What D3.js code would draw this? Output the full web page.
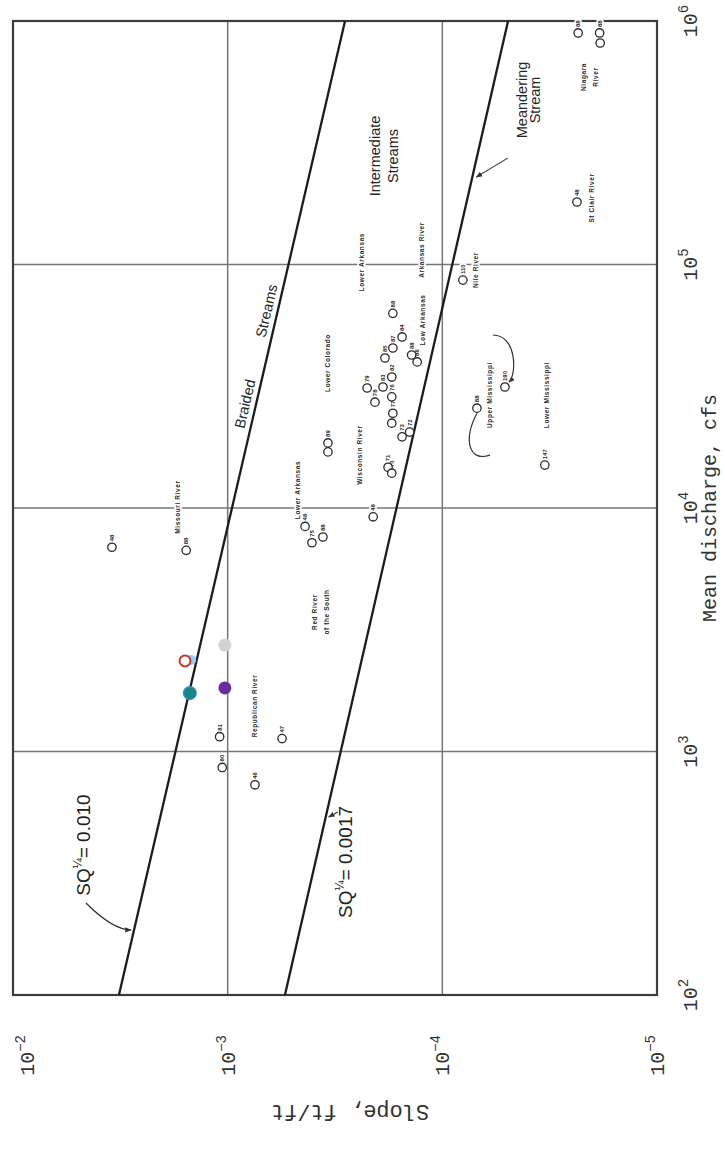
<!DOCTYPE html>
<html><head><meta charset="utf-8">
<script src="https://cdn.jsdelivr.net/npm/d3@7/dist/d3.min.js"></script>
<style>html,body{margin:0;padding:0;background:#fff;} svg{display:block;}</style>
</head><body>
<svg id="chart" width="725" height="1149"></svg>
<script>
// ---------------- data ----------------
const dischargeTicks = [1e2, 1e3, 1e4, 1e5, 1e6];
const dischargeExp = ["2", "3", "4", "5", "6"];
const slopeTicks = [1e-2, 1e-3, 1e-4, 1e-5];
const slopeExp = ["\u22122", "\u22123", "\u22124", "\u22125"];
const gridDischarge = [1e3, 1e4, 1e5];
const gridSlope = [1e-3, 1e-4];

// SQ^1/4 = 0.010 (braided threshold) and SQ^1/4 = 0.0017 (meandering threshold)
const braidedQ = [1e2, 1e6];
const braidedS = [3.21e-3, 2.84e-4];
const meanderQ = [1e2, 1e6];
const meanderS = [5.41e-4, 4.94e-5];

// river data points (discharge cfs, slope ft/ft)
const riverQ = [6900, 6700, 1150, 860, 730, 1130, 8400, 7200, 7600, 9200, 18500, 17000,
  63000, 50400, 45400, 41300, 42500, 39800, 34500, 31400, 31100, 27200, 28600, 24500,
  22300, 19600, 20500, 14700, 13900, 86300, 25700, 31400, 15000, 180600, 893000, 893000, 812000];
const riverS = [3.46e-3, 1.56e-3, 1.09e-3, 1.06e-3, 7.46e-4, 5.58e-4, 4.36e-4, 4.05e-4, 3.60e-4, 2.10e-4, 3.41e-4, 3.41e-4,
  1.70e-4, 1.54e-4, 1.70e-4, 1.85e-4, 1.39e-4, 1.31e-4, 1.72e-4, 1.89e-4, 2.24e-4, 2.06e-4, 1.72e-4, 1.70e-4,
  1.72e-4, 1.54e-4, 1.42e-4, 1.79e-4, 1.72e-4, 8.02e-5, 6.90e-5, 5.11e-5, 3.33e-5, 2.36e-5, 2.33e-5, 1.85e-5, 1.84e-5];
const riverIds = ["48","88","81","80","46","47","48","75","88","48","89","90","88","84","87","85","88","86",
  "82","83","79","78","76","77","74","73","72","71","70","110","88","190","147","48","88","88","8"];

// highlighted (coloured) points
const highlightQ = [2377, 2355, 2735, 1738, 1824];
const highlightS = [1.48e-3, 1.58e-3, 1.03e-3, 1.50e-3, 1.03e-3];

// river name notes
const noteText = ["Missouri River","Republican River","Lower Arkansas","Red River","of the South","Lower Colorado",
  "Lower Arkansas","Wisconsin River","Arkansas River","Low Arkansas","Nile River","Upper Mississippi",
  "Lower Mississippi","St Clair River","Niagara","River"];
const noteQ = [10090, 1538, 11860, 3740, 3740, 39400, 102300, 16500, 114800, 59200, 94900, 29100, 29100, 187600, 589000, 589000];
const noteS = [1.72e-3, 7.46e-4, 4.75e-4, 3.92e-4, 3.48e-4, 3.41e-4, 2.37e-4, 2.42e-4, 1.25e-4, 1.24e-4, 6.97e-5, 6.00e-5, 3.26e-5, 2.01e-5, 2.21e-5, 1.93e-5];

// region labels
const regionText = ["Intermediate", "Streams", "Meandering", "Stream"];
const regionQ = [279000, 279000, 474000, 474000];
const regionS = [2.06e-4, 1.70e-4, 4.26e-5, 3.71e-5];
const braidWords = ["Braided", "Streams"];
const braidWordQ = [26500, 63800];

// equation labels
const eqValue = ["0.010", "0.0017"];
const eqQ = [413, 352];
const eqS = [4.38e-3, 2.64e-4];

// ---------------- drawing ----------------
const svg = d3.select("#chart");
const defs = svg.append("defs");
defs.append("marker").attr("id", "ah").attr("viewBox", "0 0 10 10")
  .attr("refX", 9).attr("refY", 5).attr("markerWidth", 5).attr("markerHeight", 5)
  .attr("orient", "auto")
  .append("path").attr("d", "M0,1 L10,5 L0,9 z").attr("fill", "#333");

// chart is drawn in its original orientation then turned a quarter turn counter-clockwise
const g = svg.append("g").attr("transform", "translate(0,1149) rotate(-90)");
const x = d3.scaleLog().domain([1e2, 1e6]).range([154, 1128]);
const y = d3.scaleLog().domain([1e-2, 1e-5]).range([13, 657]);
const [x0, x1] = x.range(), [y0, y1] = y.range();

// grid
g.selectAll("line.gq").data(gridDischarge).join("line").attr("class", "gq")
  .attr("x1", d => x(d)).attr("x2", d => x(d)).attr("y1", y0).attr("y2", y1)
  .attr("stroke", "#767676").attr("stroke-width", 1.5);
g.selectAll("line.gs").data(gridSlope).join("line").attr("class", "gs")
  .attr("y1", d => y(d)).attr("y2", d => y(d)).attr("x1", x0).attr("x2", x1)
  .attr("stroke", "#767676").attr("stroke-width", 1.5);

// frame
g.append("rect").attr("x", x0).attr("y", y0).attr("width", x1 - x0).attr("height", y1 - y0)
  .attr("fill", "none").attr("stroke", "#3c3c3c").attr("stroke-width", 2.2);

// notes (white halo breaks the grid like the original)
const halo = sel => sel.attr("stroke", "#fff").attr("stroke-width", 3.5).attr("paint-order", "stroke")
  .attr("stroke-linejoin", "round");

g.selectAll("text.note").data(noteText).join("text").attr("class", "note")
  .attr("x", (d, i) => x(noteQ[i])).attr("y", (d, i) => y(noteS[i]))
  .attr("text-anchor", "middle").attr("dominant-baseline", "central")
  .attr("font-family", "Liberation Sans, Arial, sans-serif").attr("font-weight", "bold")
  .attr("font-size", 6.5).attr("letter-spacing", 0.6).attr("fill", "#2a2a2a")
  .call(halo).text(d => d);

g.selectAll("text.rid").data(riverIds).join("text").attr("class", "rid")
  .attr("x", (d, i) => x(riverQ[i]) + 6).attr("y", (d, i) => y(riverS[i]) + 2)
  .attr("font-family", "Liberation Sans, Arial, sans-serif").attr("font-weight", "bold")
  .attr("font-size", 6).attr("fill", "#2a2a2a").call(halo).text(d => d);

// region labels
g.selectAll("text.reg").data(regionText).join("text").attr("class", "reg")
  .attr("x", (d, i) => x(regionQ[i])).attr("y", (d, i) => y(regionS[i]))
  .attr("text-anchor", "middle").attr("dominant-baseline", "central")
  .attr("font-family", "Liberation Sans, Arial, sans-serif").attr("font-size", 14.5)
  .attr("fill", "#252525").text(d => d);

// threshold lines
const lineGen = d3.line().x(d => x(d[0])).y(d => y(d[1]));
g.append("path").datum(d3.zip(braidedQ, braidedS)).attr("d", lineGen)
  .attr("fill", "none").attr("stroke", "#1c1c1c").attr("stroke-width", 2.3);
g.append("path").datum(d3.zip(meanderQ, meanderS)).attr("d", lineGen)
  .attr("fill", "none").attr("stroke", "#1c1c1c").attr("stroke-width", 2.3);

// pixel position along a threshold line for a given discharge
const braidY = d3.scaleLog().domain(braidedQ).range(braidedS.map(y));
const meanderY = d3.scaleLog().domain(meanderQ).range(meanderS.map(y));
const braidAngle = Math.atan2(braidY(braidedQ[1]) - braidY(braidedQ[0]), x(braidedQ[1]) - x(braidedQ[0])) * 180 / Math.PI;

g.selectAll("text.braid").data(braidWords).join("text").attr("class", "braid")
  .attr("transform", (d, i) => `translate(${x(braidWordQ[i])},${braidY(braidWordQ[i]) - 6}) rotate(${braidAngle})`)
  .attr("text-anchor", "middle")
  .attr("font-family", "Liberation Sans, Arial, sans-serif").attr("font-size", 14.5)
  .attr("fill", "#252525").text(d => d);

// equation labels
const eq = g.selectAll("text.eq").data(eqValue).join("text").attr("class", "eq")
  .attr("x", (d, i) => x(eqQ[i])).attr("y", (d, i) => y(eqS[i]))
  .attr("text-anchor", "middle")
  .attr("font-family", "Liberation Sans, Arial, sans-serif").attr("font-size", 19).attr("fill", "#222");
eq.append("tspan").text("SQ");
eq.append("tspan").attr("font-size", 12).attr("dy", -8).text("\u00BC");
eq.append("tspan").attr("dy", 8).text(d => "= " + d);

// equation arrows
const bEndQ = 185;
const bStart = [x(eqQ[0]) - 58, y(eqS[0]) - 4];
const bEnd = [x(bEndQ), braidY(bEndQ) - 3];
g.append("path")
  .attr("d", `M${bStart[0]},${bStart[1]} Q${bEnd[0]},${bStart[1] + (bStart[0] - bEnd[0])} ${bEnd[0]},${bEnd[1]}`)
  .attr("fill", "none").attr("stroke", "#333").attr("stroke-width", 1.3).attr("marker-end", "url(#ah)");
const mEndQ = 538;
g.append("line").attr("x1", x(mEndQ) + 5).attr("y1", y(eqS[1]) - 14)
  .attr("x2", x(mEndQ)).attr("y2", meanderY(mEndQ) + 3)
  .attr("stroke", "#333").attr("stroke-width", 1.3).attr("marker-end", "url(#ah)");
// meandering stream arrow
const sEndQ = 228600;
g.append("line").attr("x1", x(regionQ[2]) - 58).attr("y1", y(regionS[2]) - 14)
  .attr("x2", x(sEndQ)).attr("y2", meanderY(sEndQ) + 4)
  .attr("stroke", "#555").attr("stroke-width", 1.3).attr("marker-end", "url(#ah)");

// Upper Mississippi brackets
const pU = [x(riverQ[31]), y(riverS[31])];
g.append("path").attr("d", `M${pU[0] + 52},${pU[1] - 12} C${pU[0] + 52},${pU[1] + 12} ${pU[0] + 12},${pU[1] + 12} ${pU[0] + 5},${pU[1] + 4}`)
  .attr("fill", "none").attr("stroke", "#333").attr("stroke-width", 1.2).attr("marker-end", "url(#ah)");
const pL = [x(riverQ[30]), y(riverS[30])];
g.append("path").attr("d", `M${pL[0] - 5},${pL[1]} C${pL[0] - 32},${pL[1] - 14} ${pL[0] - 54},${pL[1] - 8} ${pL[0] - 47},${pL[1] + 13}`)
  .attr("fill", "none").attr("stroke", "#333").attr("stroke-width", 1.2);

// river points
g.selectAll("circle.riv").data(riverQ).join("circle").attr("class", "riv")
  .attr("cx", d => x(d)).attr("cy", (d, i) => y(riverS[i])).attr("r", 4.2)
  .attr("fill", "#fff").attr("stroke", "#2a2a2a").attr("stroke-width", 1.3);

// highlighted points
const hlFill = ["#9ccdf2", "#fff", "#d2d2d2", "#17877f", "#6a2d9b"];
const hlStroke = ["#9ccdf2", "#c23b2e", "#d2d2d2", "#3d8fd6", "#6a2d9b"];
const hlWidth = [0, 2, 0, 1.2, 0];
const hlR = [5, 5.5, 6.5, 6.5, 6.5];
g.selectAll("circle.hl").data(highlightQ).join("circle").attr("class", "hl")
  .attr("cx", d => x(d)).attr("cy", (d, i) => y(highlightS[i])).attr("r", (d, i) => hlR[i])
  .attr("fill", (d, i) => hlFill[i]).attr("stroke", (d, i) => hlStroke[i]).attr("stroke-width", (d, i) => hlWidth[i]);

// axis tick labels
const mono = "Liberation Mono, Courier New, monospace";
const qt = g.selectAll("text.qt").data(dischargeTicks).join("text").attr("class", "qt")
  .attr("x", d => x(d)).attr("y", 697).attr("text-anchor", "middle")
  .attr("font-family", mono).attr("font-size", 20).attr("fill", "#333");
qt.append("tspan").text("10");
qt.append("tspan").attr("font-size", 14).attr("dy", -9).text((d, i) => dischargeExp[i]);

const st = g.selectAll("text.st").data(slopeTicks).join("text").attr("class", "st")
  .attr("x", 114).attr("y", d => Math.max(y(d), y0 + 14) + 7).attr("text-anchor", "end")
  .attr("font-family", mono).attr("font-size", 20).attr("fill", "#333");
st.append("tspan").text("10");
st.append("tspan").attr("font-size", 14).attr("dy", -9).text((d, i) => slopeExp[i]);

// axis titles
g.append("text").attr("x", (x0 + x1) / 2).attr("y", 716).attr("text-anchor", "middle")
  .attr("font-family", mono).attr("font-size", 20).attr("fill", "#333").text("Mean discharge, cfs");
g.append("text").attr("transform", `translate(44,${(y0 + y1) / 2 + 15}) rotate(-90)`).attr("text-anchor", "middle")
  .attr("font-family", mono).attr("font-size", 22).attr("fill", "#333").text("Slope, ft/ft");
</script>
</body></html>
